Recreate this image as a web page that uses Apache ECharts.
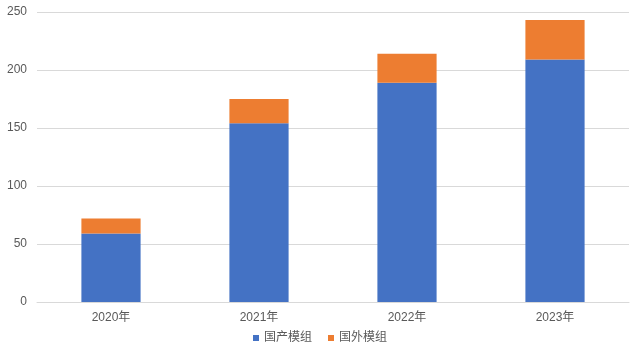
<!DOCTYPE html>
<html><head><meta charset="utf-8">
<script src="https://cdn.jsdelivr.net/npm/echarts@6/dist/echarts.min.js"></script>
<style>html,body{margin:0;padding:0;background:#fff}#c{width:640px;height:357px}</style>
</head><body><div id="c"></div>
<script>
const categories = ['2020年','2021年','2022年','2023年'];
const domestic = [59, 154, 189, 209];
const foreign = [13, 21, 25, 34];
const seriesNames = ['国产模组','国外模组'];
const yTicks = {min:0, max:250, interval:50};

const chart = echarts.init(document.getElementById('c'));
const font = '"Liberation Sans", "Noto Sans CJK SC", sans-serif';
chart.setOption({
  animation:false,
  textStyle:{fontFamily:font},
  grid:{left:37, right:11, top:12, bottom:55},
  legend:{bottom:8, left:'center', itemWidth:6, itemHeight:6, itemGap:16, icon:'rect',
    textStyle:{color:'#595959', fontSize:12, fontFamily:font}, data:seriesNames},
  xAxis:{type:'category', data:categories,
    axisLine:{show:true, lineStyle:{color:'#d9d9d9'}}, axisTick:{show:false},
    axisLabel:{color:'#595959', fontSize:12, margin:10, fontFamily:font}},
  yAxis:{type:'value', min:yTicks.min, max:yTicks.max, interval:yTicks.interval,
    axisLine:{show:false}, axisTick:{show:false},
    splitLine:{lineStyle:{color:'#d9d9d9'}},
    axisLabel:{color:'#595959', fontSize:12, margin:10, fontFamily:font}},
  series:[
    {name:seriesNames[0], type:'bar', stack:'a', data:domestic, barWidth:'40%', itemStyle:{color:'#4472c4'}},
    {name:seriesNames[1], type:'bar', stack:'a', data:foreign, barWidth:'40%', itemStyle:{color:'#ed7d31'}}
  ]
});
</script></body></html>
